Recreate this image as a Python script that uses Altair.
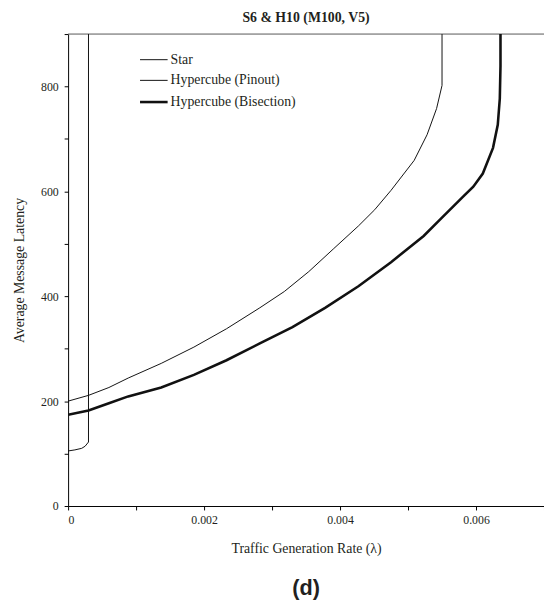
import altair as alt
import pandas as pd

# ---- data ----
series_names = ["Star", "Hypercube (Pinout)", "Hypercube (Bisection)"]
series_widths = [1, 1, 2.6]

star_x = [0, 0.0001, 0.0002, 0.00025, 0.0003, 0.0003]
star_y = [105, 107, 110, 114, 122, 900]

pinout_x = [0, 0.0003, 0.0006, 0.000884, 0.00137, 0.00185, 0.00233, 0.00282,
            0.00318, 0.00354, 0.0039, 0.00427, 0.00451, 0.00475, 0.00509,
            0.00528, 0.00542, 0.0055, 0.0055]
pinout_y = [200, 211, 226, 244, 272, 303, 338, 378,
            409, 447, 490, 534, 565, 602, 659,
            708, 758, 802, 900]

bisection_x = [0, 0.0003, 0.0006, 0.000884, 0.00137, 0.00185, 0.00233, 0.00282,
               0.0033, 0.00378, 0.00427, 0.00475, 0.00523, 0.00547, 0.00581,
               0.00596, 0.0061, 0.00625, 0.00632, 0.00635, 0.00636, 0.00636]
bisection_y = [174, 182, 196, 209, 226, 250, 278, 310,
               341, 378, 419, 465, 515, 546, 590,
               609, 634, 683, 727, 777, 839, 900]

x_ticks = [0, 0.001, 0.002, 0.003, 0.004, 0.005, 0.006, 0.007]
y_ticks = [0, 100, 200, 300, 400, 500, 600, 700, 800, 900]

rows = []
for name, xs, ys in [(series_names[0], star_x, star_y),
                     (series_names[1], pinout_x, pinout_y),
                     (series_names[2], bisection_x, bisection_y)]:
    for i, (xv, yv) in enumerate(zip(xs, ys)):
        rows.append({"series": name, "x": xv, "y": yv, "idx": i})
df = pd.DataFrame(rows)

FONT = "Liberation Serif"
TXT = "#231f20"
W, H = 483, 479

xscale = alt.Scale(domain=[0, 0.007], nice=False, zero=False)
yscale = alt.Scale(domain=[0, 900], nice=False)

xaxis = alt.Axis(values=x_ticks,
                 labelExpr="datum.value == 0 ? '0' : (round(datum.value*1000) % 2 == 0 ? format(datum.value, '.3f') : '')",
                 title="Traffic Generation Rate (λ)", grid=False,
                 tickSize=4, labelPadding=5, titlePadding=16,
                 labelFontSize=12, titleFontSize=14,
                 labelFont=FONT, titleFont=FONT, titleFontWeight="normal",
                 domainColor="black", tickColor="black",
                 labelColor=TXT, titleColor=TXT)
yaxis = alt.Axis(values=y_ticks,
                 labelExpr="datum.value % 200 == 0 ? format(datum.value, 'd') : ''",
                 title="Average Message Latency", grid=False,
                 tickSize=4, labelPadding=6, titlePadding=14,
                 labelFontSize=12, titleFontSize=14,
                 labelFont=FONT, titleFont=FONT, titleFontWeight="normal",
                 domainColor="black", tickColor="black",
                 labelColor=TXT, titleColor=TXT)

layers = []
for k, name in enumerate(series_names):
    sub = df[df["series"] == name]
    layers.append(
        alt.Chart(sub).mark_line(clip=True, color="#111", strokeWidth=series_widths[k]).encode(
            x=alt.X("x:Q", scale=xscale, axis=xaxis),
            y=alt.Y("y:Q", scale=yscale, axis=yaxis),
            order="idx:Q",
        )
    )

# legend (manual, inside plot at top-left)
legend_rows_y = [26, 47, 69]
for k, name in enumerate(series_names):
    ld = pd.DataFrame({"label": [name]})
    layers.append(
        alt.Chart(ld).mark_rule(color="#111", strokeWidth=series_widths[k]).encode(
            x=alt.value(73), x2=alt.value(101), y=alt.value(legend_rows_y[k])
        )
    )
    layers.append(
        alt.Chart(ld).mark_text(font=FONT, fontSize=14, color=TXT, align="left",
                                baseline="middle").encode(
            text="label:N", x=alt.value(104), y=alt.value(legend_rows_y[k])
        )
    )

top_rule = alt.Chart(pd.DataFrame({"y": [900]})).mark_rule(color="#555", strokeWidth=1).encode(
    y=alt.Y("y:Q", scale=yscale)
)

label_d = alt.Chart(pd.DataFrame({"t": ["(d)"]})).mark_text(
    font="Liberation Sans", fontSize=22, fontWeight="bold", color=TXT
).encode(text="t:N", x=alt.value(W / 2), y=alt.value(H + 83))

chart = alt.layer(top_rule, *layers, label_d).properties(
    width=W, height=H,
    title=alt.TitleParams("S6 & H10 (M100, V5)", font=FONT, fontSize=14,
                          fontWeight="bold", color=TXT, anchor="middle", offset=9),
    autosize=alt.AutoSizeParams(type="none"),
    padding={"left": 61, "top": 22, "right": 0, "bottom": 95},
).configure_view(stroke=None)

chart.save("out.html", embed_options={"renderer": "svg", "actions": False})
